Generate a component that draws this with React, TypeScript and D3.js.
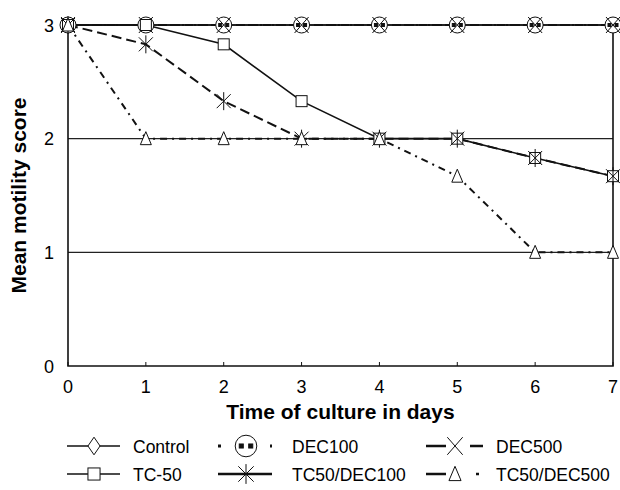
import React, { useEffect, useRef } from "react";
import * as d3 from "d3";

const days = [0, 1, 2, 3, 4, 5, 6, 7];
const control = [3, 3, 3, 3, 3, 3, 3, 3];
const dec100 = [3, 3, 3, 3, 3, 3, 3, 3];
const dec500 = [3, 3, 3, 3, 3, 3, 3, 3];
const tc50 = [3, 3, 2.83, 2.33, 2, 2, 1.83, 1.67];
const tc50dec100 = [3, 2.83, 2.33, 2, 2, 2, 1.83, 1.67];
const tc50dec500 = [3, 2, 2, 2, 2, 1.67, 1, 1];
const yTicks = [0, 1, 2, 3];

const series = [
  { name: "Control", values: control, dash: null, marker: "diamond" },
  { name: "DEC100", values: dec100, dash: "2,4", marker: "circle" },
  { name: "DEC500", values: dec500, dash: "8,5", marker: "x" },
  { name: "TC-50", values: tc50, dash: null, marker: "square" },
  { name: "TC50/DEC100", values: tc50dec100, dash: "10,5", marker: "star" },
  { name: "TC50/DEC500", values: tc50dec500, dash: "7,5,2,5", marker: "triangle" },
];

function drawMarker(g: any, type: string, cx: number, cy: number, k = 1) {
  const m = g.append("g").attr("transform", `translate(${cx},${cy}) scale(${k})`)
    .attr("fill", "none").attr("stroke", "#111").attr("stroke-width", 1 / k);
  if (type === "diamond") {
    m.append("path").attr("d", "M0,-8L5.5,0L0,8L-5.5,0Z").attr("fill", "#fff");
  } else if (type === "circle") {
    m.append("circle").attr("r", 8).attr("fill", "#fff");
    m.append("rect").attr("x", -5).attr("y", -1.5).attr("width", 3).attr("height", 3).attr("fill", "#111");
    m.append("rect").attr("x", 2).attr("y", -1.5).attr("width", 3).attr("height", 3).attr("fill", "#111");
  } else if (type === "x") {
    m.append("path").attr("d", "M-7,-8L7,8M7,-8L-7,8");
  } else if (type === "square") {
    m.append("rect").attr("x", -5.5).attr("y", -5.5).attr("width", 11).attr("height", 11).attr("fill", "#fff");
  } else if (type === "star") {
    m.append("path").attr("d", "M-7,-7L7,7M7,-7L-7,7M0,-9L0,9");
  } else if (type === "triangle") {
    m.append("path").attr("d", "M0,-7L5.5,6L-5.5,6Z").attr("fill", "#fff");
  }
}

export default function App() {
  const ref = useRef<SVGSVGElement>(null);

  useEffect(() => {
    const svg = d3.select(ref.current);
    svg.selectAll("*").remove();

    const x = d3.scaleLinear().domain([0, 7]).range([68, 613]);
    const y = d3.scaleLinear().domain([0, 3]).range([366, 25]);
    const font = "Liberation Sans, Arial, sans-serif";

    // gridlines at 1, 2, 3
    svg.append("g").selectAll("line").data(yTicks.slice(1)).join("line")
      .attr("x1", x(0)).attr("x2", x(7))
      .attr("y1", (d) => y(d)).attr("y2", (d) => y(d))
      .attr("stroke", "#222").attr("stroke-width", 1.3);

    // frame
    svg.append("path")
      .attr("d", `M${x(0)},${y(3)}L${x(0)},${y(0)}L${x(7)},${y(0)}L${x(7)},${y(3)}`)
      .attr("fill", "none").attr("stroke", "#111").attr("stroke-width", 1.6);

    svg.append("g").selectAll("line").data(days).join("line")
      .attr("x1", (d) => x(d)).attr("x2", (d) => x(d))
      .attr("y1", y(0)).attr("y2", y(0) - 4)
      .attr("stroke", "#111");

    svg.append("g").selectAll("text").data(days).join("text")
      .attr("x", (d) => x(d)).attr("y", 393)
      .attr("text-anchor", "middle").attr("font-family", font)
      .attr("font-size", 18).text((d) => d);
    svg.append("g").selectAll("text").data(yTicks).join("text")
      .attr("x", 54).attr("y", (d) => y(d) + 6.5)
      .attr("text-anchor", "end").attr("font-family", font)
      .attr("font-size", 18).text((d) => d);

    svg.append("text")
      .attr("x", (x(0) + x(7)) / 2).attr("y", 419)
      .attr("text-anchor", "middle").attr("font-family", font)
      .attr("font-size", 21).attr("font-weight", "bold")
      .text("Time of culture in days");
    svg.append("text")
      .attr("transform", `translate(26,${(y(0) + y(3)) / 2}) rotate(-90)`)
      .attr("text-anchor", "middle").attr("font-family", font)
      .attr("font-size", 21).attr("font-weight", "bold")
      .text("Mean motility score");

    const line = d3.line<number>().x((_, i) => x(days[i])).y((d) => y(d));
    series.forEach((s) => {
      svg.append("path").datum(s.values).attr("d", line)
        .attr("fill", "none").attr("stroke", "#111")
        .attr("stroke-width", s.dash ? 2 : 1.6)
        .attr("stroke-dasharray", s.dash);
    });
    const mg = svg.append("g");
    series.forEach((s) => {
      s.values.forEach((v, i) => drawMarker(mg, s.marker, x(days[i]), y(v)));
    });

    // legend
    const legend = svg.append("g").attr("font-family", font).attr("font-size", 17.5);
    const symX = [67, 218, 426];
    const textX = [133, 292, 496];
    const rows = [446, 474];
    series.forEach((s, i) => {
      const c = i % 3;
      const ly = rows[Math.floor(i / 3)];
      const lx = symX[c];
      const w = c === 2 ? 57 : c === 1 ? 54 : 53;
      const g = legend.append("g");
      let dash: string | null = null;
      if (s.name === "DEC100") dash = "3,49,3";
      else if (s.name === "DEC500") dash = "20,24,13";
      else if (s.name === "TC50/DEC500") dash = "20,30,3";
      g.append("line").attr("x1", lx).attr("x2", lx + w).attr("y1", ly).attr("y2", ly)
        .attr("stroke", "#111")
        .attr("stroke-width", s.name === "DEC100" ? 3 : s.dash ? 2.5 : 1.4)
        .attr("stroke-dasharray", dash);
      const mx = c === 0 ? lx + 27 : c === 1 ? lx + 28 : lx + 29;
      drawMarker(g, s.marker, mx, ly, s.marker === "circle" ? 1.35 : 1.1);
      g.append("text").attr("x", textX[c]).attr("y", ly + 6.5).text(s.name);
    });
  }, []);

  return (
    <svg
      ref={ref}
      width={620}
      height={490}
      style={{ display: "block", position: "absolute", left: 0, top: 0, background: "#fff" }}
    />
  );
}
